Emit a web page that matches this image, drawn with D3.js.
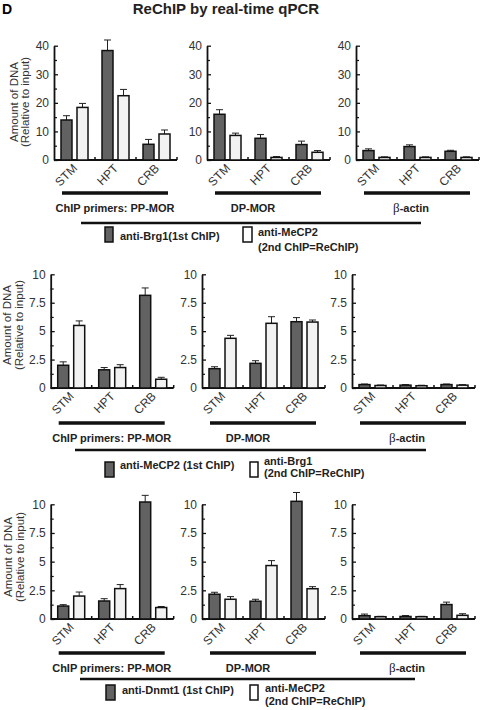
<!DOCTYPE html>
<html><head><meta charset="utf-8">
<script src="https://cdn.jsdelivr.net/npm/d3@7"></script>
<style>body{margin:0;background:#fff}svg{display:block}</style>
</head><body>
<script>
// ---------- data ----------
const categories = ["STM", "HPT", "CRB"];
const primerLabels = ["ChIP primers: PP-MOR", "DP-MOR", "β-actin"];
const yTicksTop = [0, 10, 20, 30, 40];
const yTicksLow = [0, 2.5, 5, 7.5, 10];
const yTickLabelsLow = ["0", "2.5", "5", "7.5", "10"];

// row 1: anti-Brg1 (1st) / anti-MeCP2 (ReChIP)   [PP-MOR, DP-MOR, beta-actin] x [STM, HPT, CRB]
const r1First    = [[14.0, 38.3, 5.5], [16.0, 7.6, 5.4], [3.3, 4.7, 3.05]];
const r1FirstErr = [[1.5, 3.7, 1.7], [1.6, 1.3, 1.2], [0.6, 0.6, 0.35]];
const r1Second    = [[18.4, 22.5, 9.1], [8.6, 0.9, 2.7], [0.9, 0.9, 0.9]];
const r1SecondErr = [[1.4, 2.2, 1.4], [0.8, 0.3, 0.6], [0.2, 0.2, 0.2]];
// row 2: anti-MeCP2 (1st) / anti-Brg1 (ReChIP)
const r2First    = [[2.0, 1.6, 8.15], [1.7, 2.17, 5.83], [0.3, 0.25, 0.3]];
const r2FirstErr = [[0.3, 0.2, 0.65], [0.17, 0.23, 0.36], [0.05, 0.05, 0.05]];
const r2Second    = [[5.5, 1.8, 0.77], [4.37, 5.69, 5.8], [0.22, 0.2, 0.25]];
const r2SecondErr = [[0.4, 0.25, 0.17], [0.26, 0.58, 0.18], [0.04, 0.04, 0.04]];
// row 3: anti-Dnmt1 (1st) / anti-MeCP2 (ReChIP)
const r3First    = [[1.13, 1.57, 10.2], [2.16, 1.55, 10.26], [0.29, 0.22, 1.26]];
const r3FirstErr = [[0.12, 0.2, 0.58], [0.17, 0.17, 0.77], [0.14, 0.08, 0.21]];
const r3Second    = [[2.0, 2.65, 1.0], [1.72, 4.66, 2.64], [0.2, 0.2, 0.32]];
const r3SecondErr = [[0.35, 0.35, 0.09], [0.23, 0.43, 0.18], [0.03, 0.03, 0.14]];

const legendFirst = ["anti-Brg1(1st ChIP)", "anti-MeCP2 (1st ChIP)", "anti-Dnmt1 (1st ChIP)"];
const legendSecond = ["anti-MeCP2", "anti-Brg1", "anti-MeCP2"];
const legendSecondSub = "(2nd ChIP=ReChIP)";
const yTitle = ["Amount of DNA", "(Relative to input)"];

// ---------- layout ----------
const W = 480, H = 710;
const svg = d3.select("body").append("svg").attr("width", W).attr("height", H)
  .style("font-family", "Arial, 'Liberation Sans', Helvetica, sans-serif");

const DARK = "#626262", LIGHT = "#f2f2f2";
const FONT_TICK = 12;

svg.append("text").attr("x", 2).attr("y", 14).attr("font-size", 14).attr("font-weight", "bold").text("D");
svg.append("text").attr("x", 226).attr("y", 14).attr("text-anchor", "middle")
  .attr("font-size", 15).attr("font-weight", "bold").attr("fill", "#222").text("ReChIP by real-time qPCR");

const rows = [
  {first: r1First, firstErr: r1FirstErr, second: r1Second, secondErr: r1SecondErr,
   ticks: yTicksTop, tickLabels: yTicksTop.map(String), max: 40,
   yTop: 45.7, y0: 160, xs: [54, 207, 356], titleX: [14, 25], titleY: 102,
   under: 193, longY: 223, longX: [81, 421],
   leg: {dx: 105, dy: 227, dw: 8, tx: 120, ty: 240, wx: 243, ww: 9, t2x: 258, t2y: 236, t3y: 251}},
  {first: r2First, firstErr: r2FirstErr, second: r2Second, secondErr: r2SecondErr,
   ticks: yTicksLow, tickLabels: yTickLabelsLow, max: 10,
   yTop: 274.3, y0: 388, xs: [50.7, 202, 352], titleX: [7, 18.5], titleY: 325,
   under: 423, longY: 450, longX: [75, 426],
   leg: {dx: 105, dy: 462, dw: 9, tx: 120, ty: 469, wx: 250, ww: 8, t2x: 264, t2y: 465, t3y: 477}},
  {first: r3First, firstErr: r3FirstErr, second: r3Second, secondErr: r3SecondErr,
   ticks: yTicksLow, tickLabels: yTickLabelsLow, max: 10,
   yTop: 504.3, y0: 619, xs: [50.7, 202, 352], titleX: [8, 20], titleY: 557,
   under: 653, longY: 679, longX: [80, 415],
   leg: {dx: 106, dy: 685, dw: 9, tx: 122, ty: 694, wx: 250, ww: 8, t2x: 265, t2y: 692, t3y: 705}}
];

const PANEL_W = 123;
const labelOffsets = [61, 46, 55];

rows.forEach((row, ri) => {
  const y = d3.scaleLinear().domain([0, row.max]).range([row.y0, row.yTop]);

  // y-axis title
  yTitle.forEach((t, k) => {
    svg.append("text")
      .attr("transform", `translate(${row.titleX[k]},${row.titleY}) rotate(-90)`)
      .attr("text-anchor", "middle").attr("dominant-baseline", "central")
      .attr("font-size", 11.5).attr("fill", "#333").text(t);
  });

  row.xs.forEach((x0, pi) => {
    const g = svg.append("g");
    const x = d3.scaleBand().domain(categories).range([x0, x0 + PANEL_W]).padding(0);
    const inner = d3.scaleBand().domain(["first", "second"]).range([0, x.bandwidth()])
      .paddingInner(5 / 16).paddingOuter(7 / 16);

    // y axis (major ticks inward)
    const ax = d3.axisLeft(y).tickValues(row.ticks).tickFormat((d, i) => row.tickLabels[i])
      .tickSizeInner(-4).tickSizeOuter(0).tickPadding(5);
    const ag = g.append("g").attr("transform", `translate(${x0},0)`).call(ax);
    ag.select(".domain").attr("stroke", "#111").attr("stroke-width", 1.8);
    ag.selectAll(".tick line").attr("stroke", "#111").attr("stroke-width", 1.3);
    ag.selectAll(".tick text").attr("font-size", FONT_TICK).attr("fill", "#333")
      .attr("font-family", "Arial, 'Liberation Sans', sans-serif");
    // minor ticks
    const minors = d3.pairs(row.ticks).map(([a, b]) => (a + b) / 2);
    const mg = g.append("g").attr("transform", `translate(${x0},0)`)
      .call(d3.axisLeft(y).tickValues(minors).tickFormat("").tickSizeInner(-3).tickSizeOuter(0));
    mg.select(".domain").remove();
    mg.selectAll(".tick line").attr("stroke", "#111").attr("stroke-width", 1.2);

    // x axis line
    g.append("line").attr("x1", x0).attr("x2", x0 + PANEL_W).attr("y1", row.y0).attr("y2", row.y0)
      .attr("stroke", "#111").attr("stroke-width", 1.8);
    // separator ticks
    g.selectAll(".sep").data(categories).join("line")
      .attr("x1", d => x(d) + x.bandwidth()).attr("x2", d => x(d) + x.bandwidth())
      .attr("y1", row.y0).attr("y2", row.y0 - 3).attr("stroke", "#111").attr("stroke-width", 1.5);

    // bars
    const series = [
      {key: "first", vals: row.first[pi], errs: row.firstErr[pi], fill: DARK},
      {key: "second", vals: row.second[pi], errs: row.secondErr[pi], fill: LIGHT}
    ];
    series.forEach(s => {
      categories.forEach((c, ci) => {
        const bx = x(c) + inner(s.key);
        const bw = inner.bandwidth();
        const v = s.vals[ci], e = s.errs[ci];
        const cx = bx + bw / 2;
        // error bar (upper)
        g.append("line").attr("x1", cx).attr("x2", cx).attr("y1", y(v)).attr("y2", y(v + e))
          .attr("stroke", "#222").attr("stroke-width", 1);
        g.append("line").attr("x1", cx - 3.5).attr("x2", cx + 3.5).attr("y1", y(v + e)).attr("y2", y(v + e))
          .attr("stroke", "#222").attr("stroke-width", 1);
        g.append("rect").attr("x", bx).attr("y", y(v)).attr("width", bw)
          .attr("height", Math.max(0, y(0) - y(v)))
          .attr("fill", s.fill).attr("stroke", "#111").attr("stroke-width", 1.5);
      });
    });

    // category labels
    g.selectAll(".cat").data(categories).join("text")
      .attr("transform", d => `translate(${x(d) + x.bandwidth() / 2 + 3.5},${row.y0 + 9}) rotate(-45)`)
      .attr("text-anchor", "end").attr("font-size", FONT_TICK).attr("fill", "#333").text(d => d);

    // underline
    g.append("line").attr("x1", x0 + 8).attr("x2", x0 + 114).attr("y1", row.under).attr("y2", row.under)
      .attr("stroke", "#111").attr("stroke-width", 3.5);

    // primer label
    const lbl = g.append("text").attr("x", x0 + labelOffsets[pi]).attr("y", row.under + 19)
      .attr("text-anchor", "middle").attr("font-size", 11).attr("font-weight", "bold").attr("fill", "#222");
    const lab = primerLabels[pi];
    if (lab.startsWith("β")) {
      lbl.append("tspan").attr("font-family", "'Liberation Serif', 'DejaVu Serif', serif")
        .attr("font-weight", "normal").attr("font-size", 13).text("β");
      lbl.append("tspan").text(lab.slice(1));
    } else {
      lbl.text(lab);
    }
  });

  // long line
  svg.append("line").attr("x1", row.longX[0]).attr("x2", row.longX[1]).attr("y1", row.longY).attr("y2", row.longY)
    .attr("stroke", "#111").attr("stroke-width", 2.5);

  // legend
  const L = row.leg;
  svg.append("rect").attr("x", L.dx).attr("y", L.dy).attr("width", L.dw).attr("height", 15)
    .attr("fill", DARK).attr("stroke", "#111").attr("stroke-width", 1.5);
  svg.append("text").attr("x", L.tx).attr("y", L.ty).attr("font-size", 11).attr("font-weight", "bold")
    .attr("fill", "#222").text(legendFirst[ri]);
  svg.append("rect").attr("x", L.wx).attr("y", L.dy).attr("width", L.ww).attr("height", 15)
    .attr("fill", "#fff").attr("stroke", "#111").attr("stroke-width", 1.5);
  svg.append("text").attr("x", L.t2x).attr("y", L.t2y).attr("font-size", 11).attr("font-weight", "bold")
    .attr("fill", "#222").text(legendSecond[ri]);
  svg.append("text").attr("x", L.t2x).attr("y", L.t3y).attr("font-size", 11).attr("font-weight", "bold")
    .attr("fill", "#222").text(legendSecondSub);
});
</script>
</body></html>
